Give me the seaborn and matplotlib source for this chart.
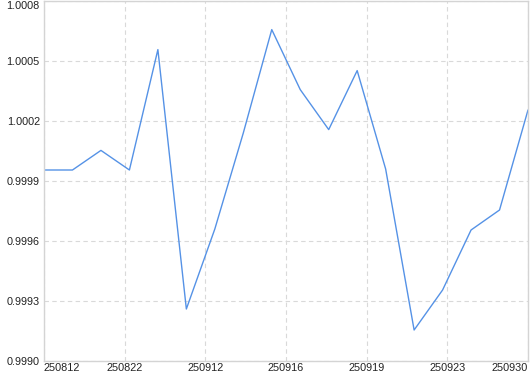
import matplotlib
matplotlib.use("Agg")
import matplotlib.pyplot as plt
import seaborn as sns
import numpy as np
import pandas as pd

values = [0.999955, 0.999955, 1.000053, 0.999955, 1.000557, 0.99926, 0.99966,
          1.00014, 1.000657, 1.000357, 1.000157, 1.000452, 0.99996, 0.999155,
          0.999355, 0.999655, 0.999755, 1.000255]
x_labels = ["250812", "250822", "250912", "250916", "250919", "250923", "250930"]
y_ticks = [0.9990, 0.9993, 0.9996, 0.9999, 1.0002, 1.0005, 1.0008]

df = pd.DataFrame({"idx": np.arange(len(values)), "value": values})

sns.set_style("white")
plt.rcParams['font.family'] = ['Liberation Sans', 'DejaVu Sans']

fig = plt.figure(figsize=(5.30, 3.74), dpi=100)
ax = fig.add_axes([44/530, 1 - 361/374, (528-44)/530, (361-1)/374])

sns.lineplot(data=df, x="idx", y="value", ax=ax, color="#5592e6", linewidth=1.0)

n = len(values) - 1
ax.set_xlim(0, n)
ax.set_ylim(y_ticks[0], y_ticks[-1])
ax.set_yticks(y_ticks)
ax.set_yticklabels([f"{t:.4f}" for t in y_ticks])
xt = np.linspace(0, n, len(x_labels))
ax.set_xticks(xt)
ax.set_xticklabels(x_labels)
labs = ax.get_xticklabels()
labs[0].set_horizontalalignment("left")
labs[-1].set_horizontalalignment("right")
ylabs = ax.get_yticklabels()
ylabs[-1].set_verticalalignment("top")

ax.grid(True, color="#d9d9d9", linestyle=(0, (4, 3)), linewidth=0.8)
ax.set_axisbelow(True)
for s in ax.spines.values():
    s.set_color("#d4d4d4")
    s.set_linewidth(1.0)
ax.tick_params(axis="both", length=0, labelsize=7.8, colors="#222222")
ax.tick_params(axis="y", pad=3)
ax.tick_params(axis="x", pad=1.5)
ax.set_xlabel("")
ax.set_ylabel("")

fig.savefig("out.png", dpi=100)
